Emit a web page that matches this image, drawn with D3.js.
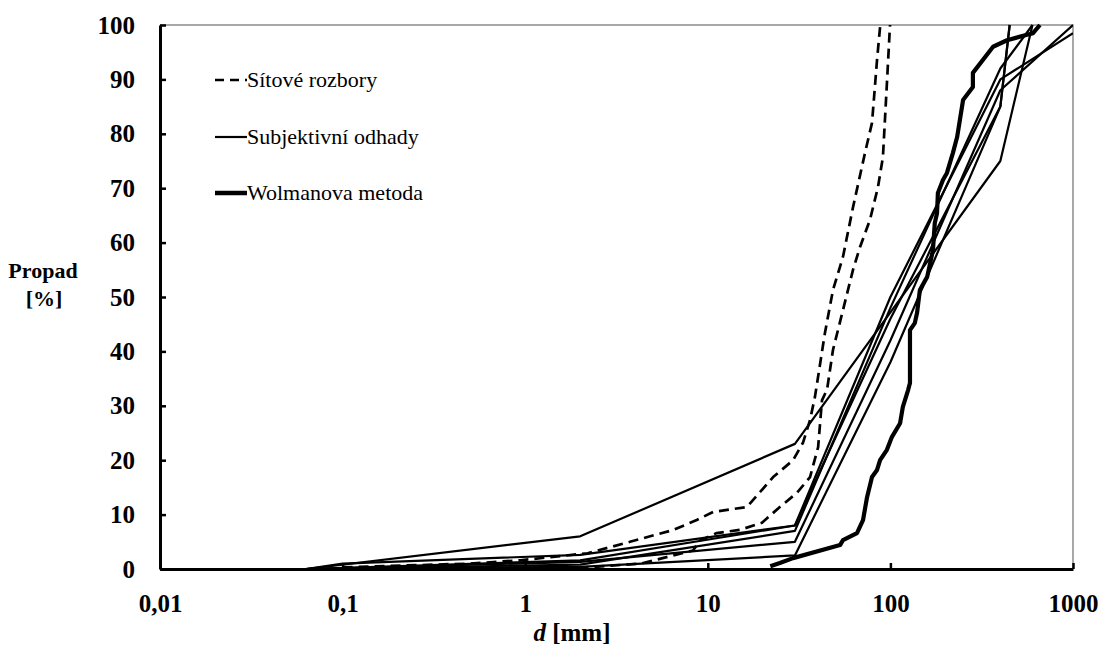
<!DOCTYPE html>
<html>
<head>
<meta charset="utf-8">
<script src="https://cdnjs.cloudflare.com/ajax/libs/d3/7.8.5/d3.min.js"></script>
<style>
  body { margin: 0; background: #fff; }
  .line { fill: none; stroke: #000; stroke-linejoin: round; }
</style>
</head>
<body>
<script>
// sitove rozbory (sieve analyses) - [d mm, propad %]
var sitove1 = [[0.1,0.3],[0.5,1.0],[0.94,1.6],[2.2,2.9],[3.75,5.0],[6.5,7.2],[8.7,9.0],[10.7,10.5],
  [16.4,11.4],[22.8,16.9],[29.3,20.0],[33.2,23.2],[36.3,27.4],[38.6,31.6],[43.8,43.4],[48.5,51.3],
  [55,57.4],[62.4,66.5],[72.6,76.5],[79.3,82],[84.5,93.6],[88,100]];
var sitove2 = [[1.6,0],[4.3,1.0],[8.3,3.4],[9.1,5.3],[11.2,6.6],[15,7.2],[19.8,8.5],[24.8,11.4],
  [30.8,14.0],[36.3,16.9],[40.2,22.4],[42.2,31],[45,33],[48.5,40.3],[55,47.6],[62.4,55],[68.2,59.2],
  [77.3,64.2],[85.5,70.2],[91,75.7],[95.7,89.3],[99.5,100]];

// subjektivni odhady (subjective estimates)
var odhad1 = [[0.063,0],[2,6],[30,23],[400,75],[600,100]];
var odhad2 = [[0.063,0],[0.1,1],[2,2.6],[30,8],[100,50],[400,90],[1000,98.5]];
var odhad3 = [[0.063,0],[2,1.6],[30,8],[100,46],[400,85],[450,100]];
var odhad4 = [[0.063,0],[2,1.3],[30,5],[100,42],[400,88],[1000,100]];
var odhad5 = [[0.063,0],[2,0.4],[30,2.5],[100,38],[400,85],[450,100]];
var odhad6 = [[0.063,0],[2,0.8],[30,7],[100,48],[400,92],[600,100]];

// Wolmanova metoda
var wolman = [[22,0.5],[24.8,1.1],[29.3,2.0],[53,4.4],[55,5.3],[65.6,6.6],[70.8,9.0],[74.5,13.2],
  [79.3,16.9],[84.5,18.2],[87.8,20.0],[95.7,21.9],[102,24.3],[113,26.8],[117,29.8],[125,32.9],
  [128,34.2],[128,43.9],[136,45.2],[140,47.1],[145,51.3],[159,53.7],[171,58.6],[175,63.6],
  [180,65.4],[182,69.1],[194,71.5],[204,72.8],[220,76.5],[232,79.4],[250,86.2],[283,88.6],
  [283,91.2],[365,96.0],[435,97.2],[560,98.2],[604,98.5],[659,100]];

var yTicks = [0,10,20,30,40,50,60,70,80,90,100];
var xTicks = [0.01,0.1,1,10,100,1000];
var xTickLabels = ["0,01","0,1","1","10","100","1000"];
var legendLabels = ["Sítové rozbory","Subjektivní odhady","Wolmanova metoda"];

var serif = "'Liberation Serif', 'Times New Roman', serif";

var margin = {top: 25, right: 31, bottom: 82, left: 160},
  width = 1104 - margin.left - margin.right,
  height = 651 - margin.top - margin.bottom;

var svg = d3.select("body").append("svg")
  .attr("width", 1104)
  .attr("height", 651)
  .style("font-family", serif);

var g = svg.append("g")
  .attr("transform", "translate(" + margin.left + "," + margin.top + ")");

var x = d3.scaleLog().domain([0.01, 1000]).range([0, width]);
var y = d3.scaleLinear().domain([0, 100]).range([height, 0]);

var line = d3.line()
  .x(function(d) { return x(d[0]); })
  .y(function(d) { return y(d[1]); });

g.append("clipPath").attr("id", "plot")
  .append("rect").attr("x", 0).attr("y", -2).attr("width", width).attr("height", height + 2);

// grey frame top + right
g.append("path")
  .attr("d", "M0,0H" + width + "V" + height)
  .attr("fill", "none").attr("stroke", "#8c8c8c").attr("stroke-width", 1.5);

var lines = g.append("g").attr("clip-path", "url(#plot)");

[odhad1, odhad2, odhad3, odhad4, odhad5, odhad6].forEach(function(s) {
  lines.append("path").datum(s).attr("class", "line")
    .attr("stroke-width", 2.2).attr("d", line);
});

[sitove1, sitove2].forEach(function(s) {
  lines.append("path").datum(s).attr("class", "line")
    .attr("stroke-width", 2.7).attr("stroke-dasharray", "10,6").attr("d", line);
});

lines.append("path").datum(wolman).attr("class", "line")
  .attr("stroke-width", 4.2).attr("d", line);

// axes
var yAxis = g.append("g")
  .call(d3.axisLeft(y).tickValues(yTicks).tickSizeInner(-6).tickSizeOuter(0).tickPadding(25));
var xAxis = g.append("g")
  .attr("transform", "translate(0," + height + ")")
  .call(d3.axisBottom(x).tickValues(xTicks).tickSizeInner(-6).tickSizeOuter(0).tickPadding(25)
    .tickFormat(function(d, i) { return xTickLabels[i]; }));

[yAxis, xAxis].forEach(function(a) {
  a.attr("font-family", serif);
  a.select(".domain").attr("stroke", "#000").attr("stroke-width", 3);
  a.selectAll(".tick line").attr("stroke", "#000").attr("stroke-width", 2.5);
  a.selectAll(".tick text")
    .style("font-family", serif)
    .style("font-size", "25px").style("font-weight", "bold");
});

// axis titles
svg.append("text").attr("x", 43).attr("y", 278)
  .attr("text-anchor", "middle").style("font-family", serif)
  .style("font-size", "22px").style("font-weight", "bold").text("Propad");
svg.append("text").attr("x", 44).attr("y", 306)
  .attr("text-anchor", "middle").style("font-family", serif)
  .style("font-size", "22px").style("font-weight", "bold").text("[%]");

var xt = svg.append("text").attr("x", 572).attr("y", 641)
  .attr("text-anchor", "middle").style("font-family", serif)
  .style("font-size", "25px").style("font-weight", "bold");
xt.append("tspan").style("font-style", "italic").text("d");
xt.append("tspan").text(" [mm]");

// legend
var leg = svg.append("g").attr("transform", "translate(215,80)");
var legStyles = [
  {w: 2.7, dash: "9,6"},
  {w: 2.2, dash: null},
  {w: 4.5, dash: null}
];
var rowY = [0, 57, 113];
legendLabels.forEach(function(t, i) {
  leg.append("line")
    .attr("x1", 0).attr("x2", 32).attr("y1", rowY[i]).attr("y2", rowY[i])
    .attr("stroke", "#000").attr("stroke-width", legStyles[i].w)
    .attr("stroke-dasharray", legStyles[i].dash);
  leg.append("text").attr("x", 32).attr("y", rowY[i] + 7)
    .style("font-family", serif)
    .style("font-size", "22px").text(t);
});
</script>
</body>
</html>
